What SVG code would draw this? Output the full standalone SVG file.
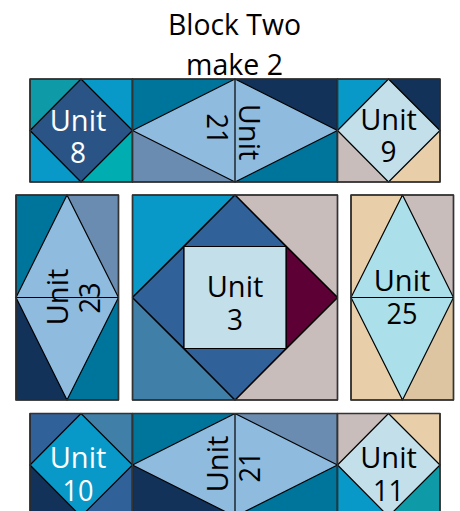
<svg xmlns="http://www.w3.org/2000/svg" width="460" height="511" viewBox="0 0 460 511">
<style>
text{font-family:"Open Sans","Noto Sans",sans-serif;font-size:29px;text-anchor:middle;fill:#000}
.w{fill:#fff}
path,rect{stroke:#000;stroke-width:1.2;stroke-linejoin:round}
.o{fill:none;stroke:#333;stroke-width:1.5}
</style>
<g id="title"><text x="234.500" y="35" textLength="133" lengthAdjust="spacingAndGlyphs">Block Two</text><text x="234.500" y="75" textLength="97" lengthAdjust="spacingAndGlyphs">make 2</text></g>

<g id="unit-8">
<path fill="#0E9AA7" d="M30 79H81V130.500H30Z"/>
<path fill="#0899C9" d="M81 79H132.500V130.500H81Z"/>
<path fill="#0899C9" d="M30 130.500H81V182H30Z"/>
<path fill="#00ADB0" d="M81 130.500H132.500V182H81Z"/>
<path fill="#2A5485" d="M81 79L132.500 130.500L81 182L30 130.500Z"/>
<rect class="o" x="30" y="79" width="102.500" height="103"/>
<text class="w" x="78" y="131">Unit</text><text class="w" x="78" y="163" textLength="16" lengthAdjust="spacingAndGlyphs">8</text>
</g>

<g id="unit-21-top">
<path fill="#00759C" d="M132.500 79H235V130.500H132.500Z"/>
<path fill="#6A8CB0" d="M132.500 130.500H235V182H132.500Z"/>
<path fill="#12325A" d="M235 79H337.500V130.500H235Z"/>
<path fill="#00759C" d="M235 130.500H337.500V182H235Z"/>
<path fill="#8FBBDF" d="M132.500 130.500L235 79L337.500 130.500L235 182Z"/>
<path fill="none" d="M235 79V182"/>
<rect class="o" x="132.500" y="79" width="205" height="103"/>
<text transform="translate(207 129) rotate(90)" textLength="31" lengthAdjust="spacingAndGlyphs">21</text>
<text transform="translate(239 132) rotate(90)">Unit</text>
</g>

<g id="unit-9">
<path fill="#0899C9" d="M337.500 79H388.500V130.500H337.500Z"/>
<path fill="#12325A" d="M388.500 79H440V130.500H388.500Z"/>
<path fill="#C8BDBB" d="M337.500 130.500H388.500V182H337.500Z"/>
<path fill="#E8CFA9" d="M388.500 130.500H440V182H388.500Z"/>
<path fill="#C3DFEA" d="M388.500 79L440 130.500L388.500 182L337.500 130.500Z"/>
<rect class="o" x="337.500" y="79" width="102.500" height="103"/>
<text x="388.500" y="130">Unit</text><text x="388.500" y="162" textLength="16" lengthAdjust="spacingAndGlyphs">9</text>
</g>

<g id="unit-23">
<path fill="#00759C" d="M16 195H67V297.500H16Z"/>
<path fill="#6A8CB0" d="M67 195H118.500V297.500H67Z"/>
<path fill="#12325A" d="M16 297.500H67V400H16Z"/>
<path fill="#00759C" d="M67 297.500H118.500V400H67Z"/>
<path fill="#8FBBDF" d="M67 195L118.500 297.500L67 400L16 297.500Z"/>
<path fill="none" d="M16 297.500H118.500"/>
<rect class="o" x="16" y="195" width="102.500" height="205"/>
<text transform="translate(68 297) rotate(-90)">Unit</text>
<text transform="translate(100 298) rotate(-90)" textLength="31" lengthAdjust="spacingAndGlyphs">23</text>
</g>

<g id="unit-3">
<path fill="#0899C9" d="M132.500 195H235L132.500 297.500Z"/>
<path fill="#C8BDBB" d="M235 195H337.500V297.500Z"/>
<path fill="#3F7FA8" d="M132.500 297.500V400H235Z"/>
<path fill="#C8BDBB" d="M337.500 297.500V400H235Z"/>
<path fill="#316199" d="M235 195L286 246.500H184Z"/>
<path fill="#316199" d="M132.500 297.500L184 246.500V348.500Z"/>
<path fill="#316199" d="M235 400L184 348.500H286Z"/>
<path fill="#5D0035" d="M337.500 297.500L286 246.500V348.500Z"/>
<rect fill="#C3DFEA" x="184" y="246.500" width="102" height="102"/>
<rect class="o" x="132.500" y="195" width="205" height="205"/>
<text x="235" y="297">Unit</text><text x="235" y="330" textLength="16" lengthAdjust="spacingAndGlyphs">3</text>
</g>

<g id="unit-25">
<path fill="#E8CFA9" d="M351 195H402V297.500H351Z"/>
<path fill="#C8BDBB" d="M402 195H453.500V297.500H402Z"/>
<path fill="#E8CFA9" d="M351 297.500H402V400H351Z"/>
<path fill="#DCC5A0" d="M402 297.500H453.500V400H402Z"/>
<path fill="#ABDFEA" d="M402.500 195L453.500 297.500L402.500 400L351 297.500Z"/>
<path fill="none" d="M351 297.500H453.500"/>
<rect class="o" x="351" y="195" width="102.500" height="205"/>
<text x="402" y="291">Unit</text><text x="402" y="324" textLength="31" lengthAdjust="spacingAndGlyphs">25</text>
</g>

<g id="unit-10">
<path fill="#316199" d="M30 413.500H81V465H30Z"/>
<path fill="#3F7FA8" d="M81 413.500H132.500V465H81Z"/>
<path fill="#12325A" d="M30 465H81V516.500H30Z"/>
<path fill="#316199" d="M81 465H132.500V516.500H81Z"/>
<path fill="#0899C9" d="M81 413.500L132.500 465L81 516.500L30 465Z"/>
<rect class="o" x="30" y="413.500" width="102.500" height="103"/>
<text class="w" x="78" y="468">Unit</text><text class="w" x="78" y="501" textLength="31" lengthAdjust="spacingAndGlyphs">10</text>
</g>

<g id="unit-21-bottom">
<path fill="#00759C" d="M132.500 413.500H235V465H132.500Z"/>
<path fill="#12325A" d="M132.500 465H235V516.500H132.500Z"/>
<path fill="#6A8CB0" d="M235 413.500H337.500V465H235Z"/>
<path fill="#00759C" d="M235 465H337.500V516.500H235Z"/>
<path fill="#8FBBDF" d="M132.500 465L235 413.500L337.500 465L235 516.500Z"/>
<path fill="none" d="M235 413.500V516.500"/>
<rect class="o" x="132.500" y="413.500" width="205" height="103"/>
<text transform="translate(228 464) rotate(-90)">Unit</text>
<text transform="translate(260 467) rotate(-90)" textLength="31" lengthAdjust="spacingAndGlyphs">21</text>
</g>

<g id="unit-11">
<path fill="#C8BDBB" d="M337.500 413.500H388.500V465H337.500Z"/>
<path fill="#E8CFA9" d="M388.500 413.500H440V465H388.500Z"/>
<path fill="#0899C9" d="M337.500 465H388.500V516.500H337.500Z"/>
<path fill="#0E9AA7" d="M388.500 465H440V516.500H388.500Z"/>
<path fill="#C3DFEA" d="M388.500 413.500L440 465L388.500 516.500L337.500 465Z"/>
<rect class="o" x="337.500" y="413.500" width="102.500" height="103"/>
<text x="388.500" y="468">Unit</text><text x="388.500" y="501" textLength="31" lengthAdjust="spacingAndGlyphs">11</text>
</g>
</svg>
